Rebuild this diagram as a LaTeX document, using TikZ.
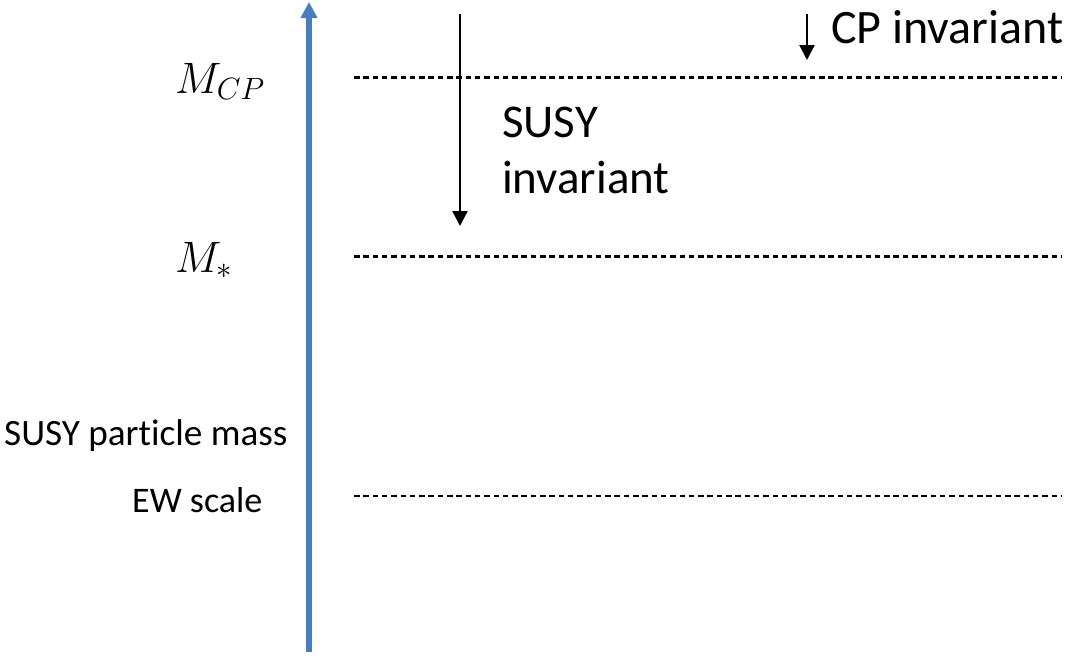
\RequirePackage{fix-cm}
\documentclass[tikz,border=0pt]{standalone}
\usepackage{fontspec}
\setmainfont{Carlito}[RawFeature={-liga;-clig;-dlig;-calt;-rlig}]
\usetikzlibrary{arrows.meta}
\definecolor{axisblue}{RGB}{74,126,187}
\begin{document}
\begin{tikzpicture}[x=1pt,y=-1pt,
  level/.style={line width=2.2pt,dash pattern=on 5.5pt off 3.8pt},
  flow/.style={line width=2.2pt,-{Triangle[width=15pt,length=15pt]}},
  biglabel/.style={anchor=base west,inner sep=0pt,font=\fontsize{47}{56}\selectfont},
  sidelabel/.style={anchor=base west,inner sep=0pt,font=\fontsize{36}{43}\selectfont},
  mathlabel/.style={anchor=base west,inner sep=0pt,font=\fontsize{44}{52}\selectfont}]
\useasboundingbox (0,0) rectangle (1069,657);

% energy axis
\coordinate (axisbot) at (309,652);
\coordinate (axistop) at (309,2);
\draw[axisblue,line width=6pt,-{Triangle[width=16pt,length=16pt]}] (axisbot) -- (axistop);

% scale labels
\node[mathlabel] (mcp) at (175,93) {$M_{CP}$};
\node[mathlabel] (mstar) at (175,272) {$M_{*}$};
\node[sidelabel,font=\fontsize{37.2}{44}\selectfont] (susymass) at (4,445) {SUSY particle mass};
\node[sidelabel] (ew) at (132,512) {EW scale};

% dashed scale lines
\coordinate (cpL) at (354,77.5);  \coordinate (cpR) at (1062,77.5);
\coordinate (stL) at (354,256.5); \coordinate (stR) at (1062,256.5);
\coordinate (ewL) at (354,496);   \coordinate (ewR) at (1062,496);
\draw[level] (cpL) -- (cpR);
\draw[level] (stL) -- (stR);
\draw[level] (ewL) -- (ewR);

% SUSY invariant range
\coordinate (susyTop) at (460,14);
\coordinate (susyBot) at (460,226);
\draw[flow] (susyTop) -- (susyBot);
\node[biglabel] (susy1) at (502,137) {SUSY};
\node[biglabel] (susy2) at (502,193) {invariant};

% CP invariant range
\coordinate (cpTop) at (807,14);
\coordinate (cpBot) at (807,60);
\draw[flow] (cpTop) -- (cpBot);
\node[biglabel,font=\fontsize{48}{57}\selectfont] (cpinv) at (831,43) {CP invariant};
\end{tikzpicture}
\end{document}
